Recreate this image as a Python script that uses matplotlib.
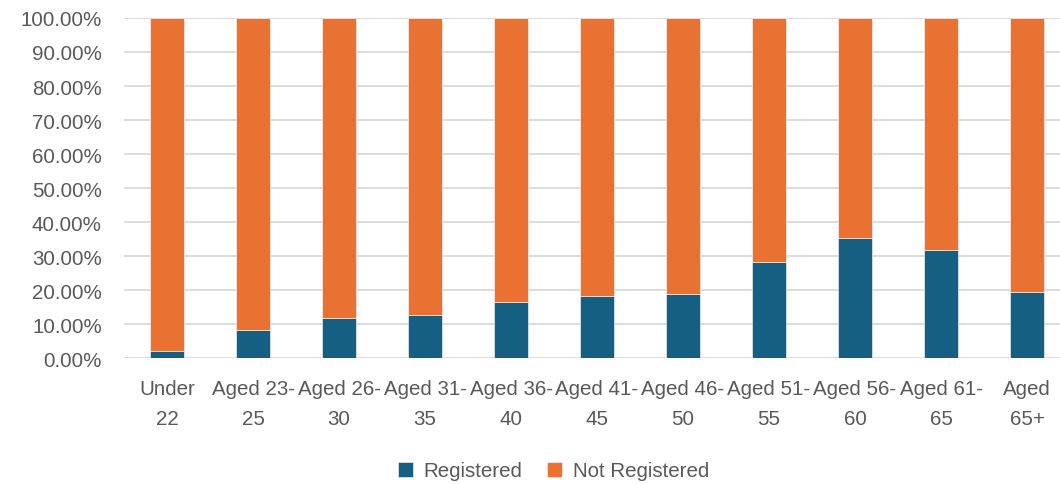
import matplotlib
matplotlib.use("Agg")
import matplotlib.pyplot as plt
from matplotlib.ticker import FuncFormatter

categories = ["Under\n22", "Aged 23-\n25", "Aged 26-\n30", "Aged 31-\n35", "Aged 36-\n40",
              "Aged 41-\n45", "Aged 46-\n50", "Aged 51-\n55", "Aged 56-\n60", "Aged 61-\n65",
              "Aged\n65+"]
registered = [0.021, 0.082, 0.119, 0.126, 0.165, 0.183, 0.190, 0.284, 0.354, 0.319, 0.196]
not_registered = [1 - r for r in registered]

plt.rcParams['font.family'] = ['Liberation Sans', 'DejaVu Sans']
text_color = "#595959"
fs = 14.8

fig = plt.figure(figsize=(10.6, 4.85), dpi=100)
ax = fig.add_axes([0.117, 0.259, 0.8925, 0.702])

x = list(range(len(categories)))
ax.bar(x, registered, width=0.4, color="#156082", label="Registered", zorder=3,
       edgecolor="white", linewidth=0.4)
ax.bar(x, not_registered, width=0.4, bottom=registered, color="#E97132",
       label="Not Registered", zorder=3, edgecolor="white", linewidth=0.4)

ax.set_ylim(0, 1)
ax.set_xlim(-0.5, len(categories) - 0.5)
ax.set_yticks([i / 10 for i in range(11)])
ax.yaxis.set_major_formatter(FuncFormatter(lambda v, p: f"{v*100:.2f}%"))
ax.set_xticks(x)
ax.set_xticklabels(categories, fontsize=fs, color=text_color, linespacing=1.75)
ax.tick_params(axis='y', labelsize=fs, labelcolor=text_color, length=0, pad=16)
ax.tick_params(axis='x', length=0, pad=15)
ax.grid(axis='y', color="#d9d9d9", linewidth=1.3, zorder=0)
for s in ax.spines.values():
    s.set_visible(False)

leg = fig.legend(loc="center", bbox_to_anchor=(0.522, 0.027), ncol=2, frameon=False,
                 fontsize=fs, handlelength=0.75, handleheight=0.75, columnspacing=1.2,
                 handletextpad=0.5)
for t in leg.get_texts():
    t.set_color(text_color)

fig.savefig("out.png", dpi=100)
